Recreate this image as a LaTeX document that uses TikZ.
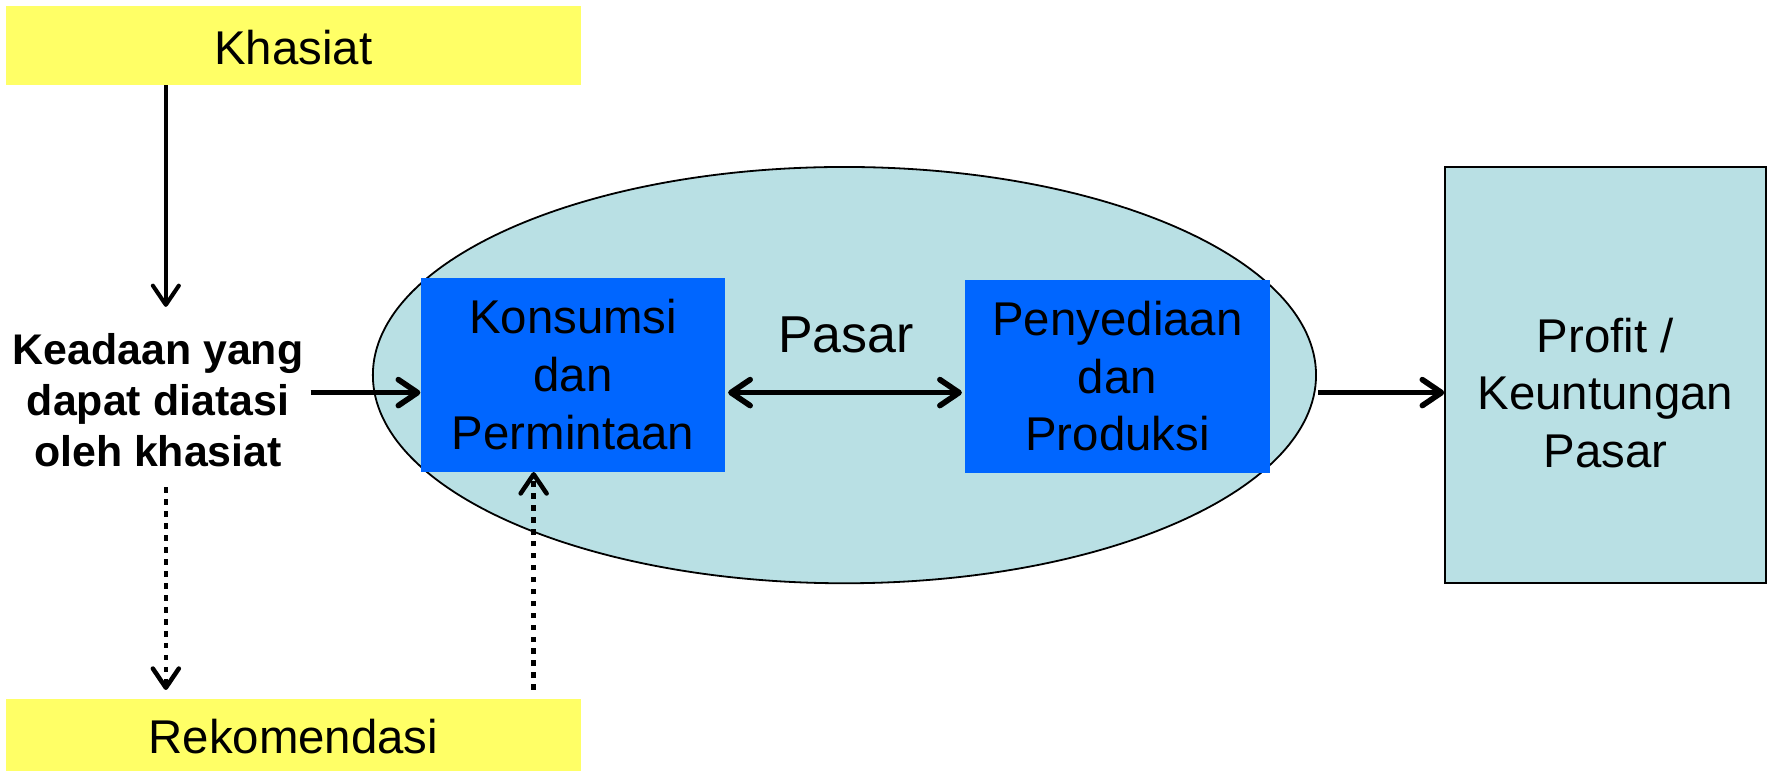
\documentclass[tikz,border=0pt]{standalone}
\usepackage{fontspec}
\setmainfont{Liberation Sans}
\usetikzlibrary{arrows.meta,shapes.geometric}
\definecolor{ylw}{HTML}{FFFF66}
\definecolor{blu}{HTML}{0066FF}
\definecolor{ltb}{HTML}{B9E0E4}
\tikzset{
  tipb/.tip={Straight Barb[length=8.5pt,width=11.5pt,round]},
  ybox/.style={fill=ylw, draw=none, inner sep=0pt, font=\fontsize{21}{25}\selectfont},
  bbox/.style={fill=blu, draw=none, inner sep=0pt, align=center, minimum width=135pt, minimum height=86pt, font=\fontsize{21}{25.5}\selectfont},
  arr/.style={-tipb, line width=2.5pt},
  thinarr/.style={-tipb, line width=1.8pt},
  dotarr/.style={-tipb, line width=2pt, dash pattern=on 2.5pt off 2.8pt},
}
\begin{document}
\begin{tikzpicture}[x=0.5pt,y=-0.5pt]
\useasboundingbox (0,0) rectangle (1568,682.6);
% ellipse
\node[ellipse, draw=black, line width=0.8pt, fill=ltb, inner sep=0pt, minimum width=418pt, minimum height=184.5pt] (ell) at (748.5,332.5) {};
% yellow boxes
\node[ybox, minimum width=255pt, minimum height=35pt] (khasiat) at (260,40) {};
\node (khasiatT) at (260,42) {\fontsize{21}{25}\selectfont Khasiat};
\node[ybox, minimum width=255pt, minimum height=31.5pt] (rekom) at (260,651.5) {};
\node (rekomT) at (260,653) {\fontsize{21}{25}\selectfont Rekomendasi};
% blue boxes
\node[bbox] (kons) at (508,332) {Konsumsi\\dan\\Permintaan};
\node[bbox, minimum width=135.5pt, minimum height=85.5pt] (prod) at (990.5,333.5) {Penyediaan\\dan\\Produksi};
% profit box
\node[draw=black, line width=0.8pt, fill=ltb, inner sep=0pt, minimum width=142pt, minimum height=184.5pt] (profit) at (1423,332.5) {};
\node[align=center, font=\fontsize{21}{25.5}\selectfont] (profitT) at (1423,348) {Profit /\\Keuntungan\\Pasar};
% texts
\node[align=center, inner sep=0pt, font=\bfseries\fontsize{19}{22.6}\selectfont] (keadaan) at (140,355) {Keadaan yang\\dapat diatasi\\oleh khasiat};
\node[font=\fontsize{23}{27}\selectfont] (pasar) at (750,297) {Pasar};
% arrows
\coordinate (a1) at (147,272);
\draw[thinarr] (khasiat.south -| a1) -- (a1);
\coordinate (ay) at (0,348);
\draw[arr, shorten <=3pt] (ay -| keadaan.east) -- (ay -| kons.west);
\draw[arr, tipb-tipb] ([xshift=1pt]ay -| kons.east) -- ([xshift=-1pt]ay -| prod.west);
\draw[arr] ([xshift=0.5pt]ay -| ell.east) -- (ay -| profit.west);
\coordinate (d1) at (147,432);
\draw[dotarr] (d1) -- ([yshift=4pt]rekom.north -| d1);
\coordinate (d2) at (473,0);
\draw[dotarr] ([yshift=4pt]rekom.north -| d2) -- (kons.south -| d2);
\end{tikzpicture}
\end{document}
